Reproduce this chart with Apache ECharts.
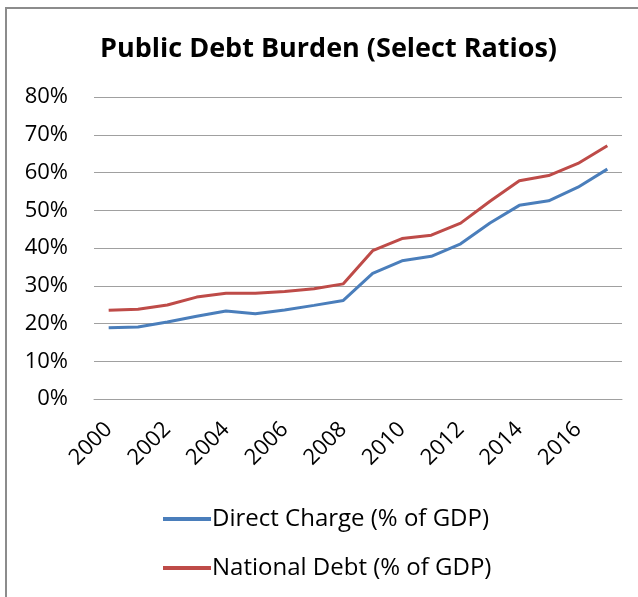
<!DOCTYPE html>
<html>
<head>
<meta charset="utf-8">
<script src="https://cdn.jsdelivr.net/npm/echarts@6/dist/echarts.min.js"></script>
<style>
  html, body { margin: 0; padding: 0; background: #fff; }
  #chart { width: 638px; height: 597px; }
</style>
</head>
<body>
<div id="chart"></div>
<script>
const years = ['2000', '2001', '2002', '2003', '2004', '2005', '2006', '2007', '2008',
  '2009', '2010', '2011', '2012', '2013', '2014', '2015', '2016', '2017'];

// values in percent of GDP
const directCharge = [18.9, 19.1, 20.4, 21.9, 23.3, 22.6, 23.6, 24.8, 26.1,
  33.3, 36.6, 37.8, 41.1, 46.6, 51.3, 52.5, 56.1, 60.9];
const nationalDebt = [23.5, 23.8, 24.9, 27.0, 28.0, 28.0, 28.5, 29.2, 30.5,
  39.3, 42.5, 43.4, 46.6, 52.4, 57.8, 59.2, 62.4, 67.1];

const yTicks = [0, 10, 20, 30, 40, 50, 60, 70, 80];

const font = '"Open Sans", "Noto Sans", sans-serif';

const chart = echarts.init(document.getElementById('chart'));

chart.setOption({
  animation: false,
  backgroundColor: '#fff',
  title: {
    text: 'Public Debt Burden (Select Ratios)',
    left: 95,
    top: 31,
    textStyle: {
      fontFamily: font,
      fontWeight: 'bold',
      fontSize: 27,
      color: '#000',
    },
  },
  graphic: [
    {
      type: 'rect',
      shape: { x: 6, y: 8, width: 700, height: 700 },
      style: { fill: 'none', stroke: '#8c8c8c', lineWidth: 2 },
      silent: true,
    },
  ],
  grid: {
    left: 94,
    right: 16,
    top: 97,
    bottom: 198,
    containLabel: false,
  },
  legend: {
    orient: 'vertical',
    left: 158,
    top: 502,
    itemGap: 25,
    itemWidth: 48,
    itemHeight: 4,
    icon: 'rect',
    textStyle: { fontFamily: font, fontSize: 24, color: '#000', padding: [0, 0, 0, -4] },
    data: ['Direct Charge (% of GDP)', 'National Debt (% of GDP)'],
  },
  xAxis: {
    type: 'category',
    data: years,
    boundaryGap: true,
    axisLine: { show: true, lineStyle: { color: '#a0a0a0' } },
    axisTick: { show: false },
    axisLabel: {
      interval: 1,
      rotate: 45,
      margin: 27,
      fontFamily: font,
      fontSize: 22,
      color: '#000',
    },
  },
  yAxis: {
    type: 'value',
    min: yTicks[0],
    max: yTicks[yTicks.length - 1],
    interval: 10,
    axisLine: { show: false },
    axisTick: { show: false },
    splitLine: { lineStyle: { color: '#a0a0a0', width: 1 } },
    axisLabel: {
      margin: 26,
      fontFamily: font,
      fontSize: 22,
      color: '#000',
      formatter: (v) => v + '%',
    },
  },
  series: [
    {
      name: 'Direct Charge (% of GDP)',
      type: 'line',
      data: directCharge,
      symbol: 'none',
      lineStyle: { color: '#4a7ebb', width: 3 },
      itemStyle: { color: '#4a7ebb' },
    },
    {
      name: 'National Debt (% of GDP)',
      type: 'line',
      data: nationalDebt,
      symbol: 'none',
      lineStyle: { color: '#be4b48', width: 3 },
      itemStyle: { color: '#be4b48' },
    },
  ],
});
</script>
</body>
</html>
